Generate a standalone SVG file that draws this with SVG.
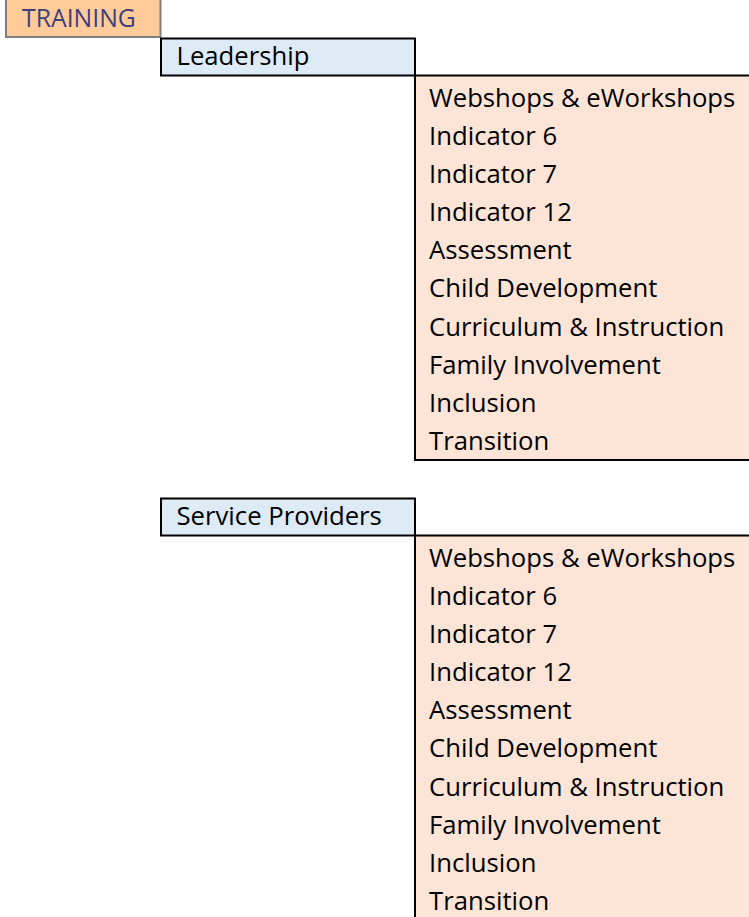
<svg xmlns="http://www.w3.org/2000/svg" width="749" height="917" viewBox="0 0 749 917">
<style>
.t{font-family:"Open Sans","Liberation Sans",sans-serif;font-size:25.7px;fill:#000}
.sec{fill:#DDEBF7;stroke:#000;stroke-width:2}
.pink{fill:#FCE4D6}
.ln{stroke:#000;stroke-width:2;fill:none}
</style>
<rect width="749" height="917" fill="#fff"/>
<g id="training">
<rect x="6" y="-2" width="154.5" height="39" fill="#FFCC99" stroke="#7F7F7F" stroke-width="2"/>
<text x="22" y="26.7" class="t" style="fill:#3F3F7C;font-size:24.8px">TRAINING</text>
</g>
<g id="leadership">
<rect class="sec" x="161" y="38.5" width="254" height="37"/>
<text x="176.5" y="65.2" class="t">Leadership</text>
</g>
<g id="leadership-topics">
<rect class="pink" x="415" y="75.5" width="340" height="384.5"/>
<path class="ln" d="M415 75.5H749M415 75.5V460H749"/>
<text class="t" x="429"><tspan x="429" y="106.9">Webshops &amp; eWorkshops</tspan><tspan x="429" y="145">Indicator 6</tspan><tspan x="429" y="183.1">Indicator 7</tspan><tspan x="429" y="221.2">Indicator 12</tspan><tspan x="429" y="259.3">Assessment</tspan><tspan x="429" y="297.4">Child Development</tspan><tspan x="429" y="335.5">Curriculum &amp; Instruction</tspan><tspan x="429" y="373.6">Family Involvement</tspan><tspan x="429" y="411.7">Inclusion</tspan><tspan x="429" y="449.8">Transition</tspan></text>
</g>
<g id="service-providers">
<rect class="sec" x="161" y="498.5" width="254" height="37"/>
<text x="176.5" y="525.2" class="t">Service Providers</text>
</g>
<g id="service-topics">
<rect class="pink" x="415" y="535.5" width="340" height="390"/>
<path class="ln" d="M415 535.5H749M415 535.5V920"/>
<text class="t" x="429"><tspan x="429" y="566.9">Webshops &amp; eWorkshops</tspan><tspan x="429" y="605">Indicator 6</tspan><tspan x="429" y="643.1">Indicator 7</tspan><tspan x="429" y="681.2">Indicator 12</tspan><tspan x="429" y="719.3">Assessment</tspan><tspan x="429" y="757.4">Child Development</tspan><tspan x="429" y="795.5">Curriculum &amp; Instruction</tspan><tspan x="429" y="833.6">Family Involvement</tspan><tspan x="429" y="871.7">Inclusion</tspan><tspan x="429" y="909.8">Transition</tspan></text>
</g>
<g id="connectors"></g>
</svg>
